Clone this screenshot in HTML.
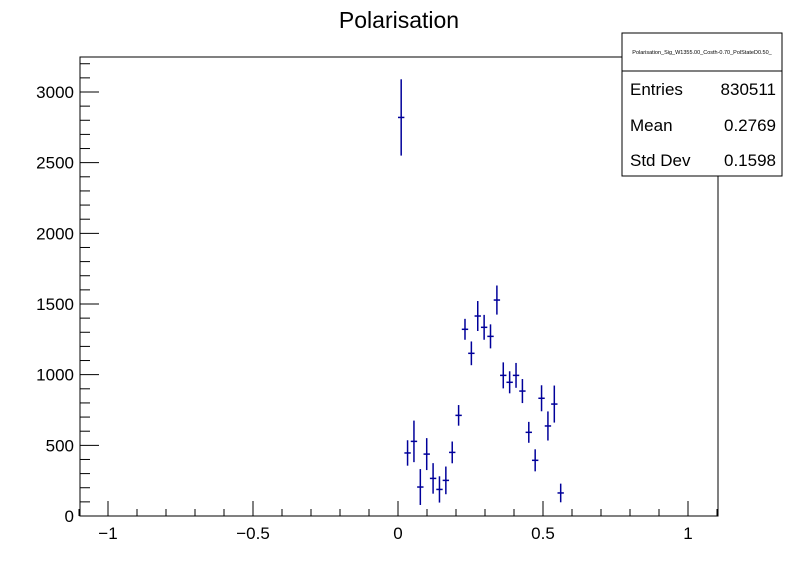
<!DOCTYPE html>
<html><head><meta charset="utf-8"><style>
body{margin:0;background:#fff;}
svg{display:block;font-family:"Liberation Sans",sans-serif;}
</style></head><body>
<svg id="c" width="798" height="574">
<rect width="798" height="574" fill="#fff"/>
<text x="399" y="28" font-size="23" text-anchor="middle">Polarisation</text>
<rect x="80" y="57" width="638" height="459" fill="none" stroke="#000" stroke-width="1"/>
<g id="axes"></g>
<g id="pts"></g>
<g>
<rect x="622" y="33" width="160" height="143" fill="#fff" stroke="#000"/>
<line x1="622" y1="71" x2="782" y2="71" stroke="#000"/>
<text x="702" y="54" font-size="5.5" text-anchor="middle">Polarisation_Sig_W1355.00_Costh-0.70_PolStateD0.50_</text>
<text x="630" y="95" font-size="17">Entries</text>
<text x="776" y="95" font-size="17" text-anchor="end">830511</text>
<text x="630" y="131" font-size="17">Mean</text>
<text x="776" y="131" font-size="17" text-anchor="end">0.2769</text>
<text x="630" y="166" font-size="17">Std Dev</text>
<text x="776" y="166" font-size="17" text-anchor="end">0.1598</text>
</g>
</svg>
<script>
const binCenters=[0.011,0.033,0.055,0.077,0.099,0.121,0.143,0.165,0.187,0.209,0.231,0.253,0.275,0.297,0.319,0.341,0.363,0.385,0.407,0.429,0.451,0.473,0.495,0.517,0.539,0.561];
const counts=[2820,446,528,205,438,266,188,252,450,712,1321,1151,1415,1335,1271,1528,995,946,995,884,592,394,833,637,792,163];
const errors=[270,90,147,127,113,108,93,98,77,73,74,84,106,88,85,103,92,78,88,85,74,78,92,103,131,66];
const xTicks=[-1,-0.5,0,0.5,1];
const xTickLabels=["\u22121","\u22120.5","0","0.5","1"];
const yTicks=[0,500,1000,1500,2000,2500,3000];
const yTickLabels=["0","500","1000","1500","2000","2500","3000"];
const binWidth=0.022;
const X=v=>398+v*290;
const Y=v=>516-v*0.141333;
const NS="http://www.w3.org/2000/svg";
function mk(t,a,p){const e=document.createElementNS(NS,t);for(const k in a)e.setAttribute(k,a[k]);p.appendChild(e);return e;}
const ax=document.getElementById('axes');
for(let i=-11;i<=11;i++){const v=i/10;const major=i%5===0;
 const l=mk('line',{x1:X(v),x2:X(v),y1:516,y2:major?501:509,stroke:'#000'},ax);
 
 }
xTicks.forEach((v,i)=>{const t=mk('text',{x:X(v),y:539,'font-size':17,'text-anchor':'middle'},ax);t.textContent=xTickLabels[i];
 
 });
for(let v=0;v<=3200;v+=100){const major=v%500===0;
 const l=mk('line',{x1:80,x2:major?99:90,y1:Y(v),y2:Y(v),stroke:'#000'},ax);
 
 }
yTicks.forEach((v,i)=>{const t=mk('text',{x:74,y:Y(v)+6,'font-size':17,'text-anchor':'end'},ax);t.textContent=yTickLabels[i];
 
 });
const pg=document.getElementById('pts');
binCenters.forEach((c,i)=>{const g=mk('g',{stroke:'#00009a','stroke-width':1.5},pg);
 
 
 mk('line',{x1:X(c-binWidth/2),x2:X(c+binWidth/2),y1:Y(counts[i]),y2:Y(counts[i])},g);
 mk('line',{x1:X(c),x2:X(c),y1:Y(counts[i]-errors[i]),y2:Y(counts[i]+errors[i])},g);});
</script>
</body></html>
